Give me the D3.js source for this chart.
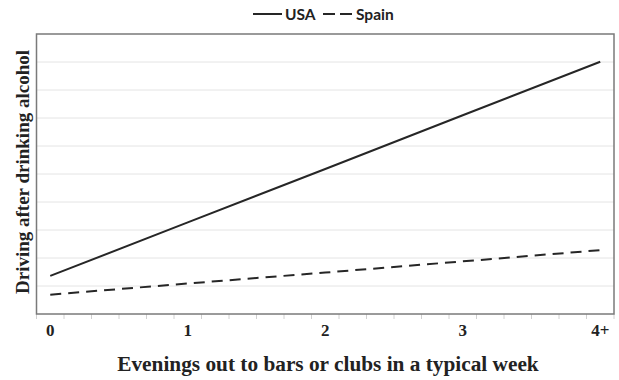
<!DOCTYPE html>
<html>
<head>
<meta charset="utf-8">
<script src="https://cdn.jsdelivr.net/npm/d3@7"></script>
<style>
  html, body { margin: 0; padding: 0; background: #fff; }
  svg { display: block; }
</style>
</head>
<body>
<svg id="chart" width="619" height="380"></svg>
<script>
// ---- Data ----
const categories = ["0", "1", "2", "3", "4+"];
const usaValues = [1.36, 3.27, 5.18, 7.10, 9.01];
const spainValues = [0.69, 1.09, 1.48, 1.88, 2.28];
const seriesNames = ["USA", "Spain"];
const yGridValues = [1, 2, 3, 4, 5, 6, 7, 8, 9];
const xMinorTicks = [-0.1, 0.1, 0.3, 0.5, 0.7, 0.9, 1.1, 1.3, 1.5, 1.7, 1.9, 2.1, 2.3, 2.5, 2.7, 2.9, 3.1, 3.3, 3.5, 3.7, 3.9, 4.1];

(function () {
const svg = d3.select("#chart");
const pL = 36.5, pR = 614, pT = 34, pB = 314;

const x = d3.scaleLinear().domain([-0.1, 4.1]).range([pL, pR]);
const y = d3.scaleLinear().domain([0, 10]).range([pB, pT]);

// Gridlines
svg.append("g").selectAll("line").data(yGridValues).join("line")
  .attr("x1", pL).attr("x2", pR)
  .attr("y1", d => y(d)).attr("y2", d => y(d))
  .attr("stroke", "#e4e4e4").attr("stroke-width", 1);

// Minor ticks below x axis
svg.append("g").selectAll("line").data(xMinorTicks).join("line")
  .attr("x1", d => x(d)).attr("x2", d => x(d))
  .attr("y1", pB).attr("y2", pB + 5)
  .attr("stroke", "#d0d0d0").attr("stroke-width", 1);

// Plot border
svg.append("rect")
  .attr("x", pL).attr("y", pT)
  .attr("width", pR - pL).attr("height", pB - pT)
  .attr("fill", "none").attr("stroke", "#7a7a7a").attr("stroke-width", 1.5);

// Lines
const line = d3.line().x((d, i) => x(i)).y(d => y(d));
svg.append("path").datum(usaValues)
  .attr("d", line).attr("fill", "none")
  .attr("stroke", "#262626").attr("stroke-width", 2);
svg.append("path").datum(spainValues)
  .attr("d", line).attr("fill", "none")
  .attr("stroke", "#262626").attr("stroke-width", 2)
  .attr("stroke-dasharray", "11,7");

// X tick labels
svg.append("g").selectAll("text").data(categories).join("text")
  .attr("x", (d, i) => x(i)).attr("y", 336)
  .attr("text-anchor", "middle")
  .attr("font-family", "'Liberation Serif', 'Times New Roman', serif")
  .attr("font-weight", "bold").attr("font-size", 17)
  .attr("fill", "#222")
  .text(d => d);

// X axis title
svg.append("text")
  .attr("x", 328).attr("y", 371)
  .attr("text-anchor", "middle")
  .attr("font-family", "'Liberation Serif', 'Times New Roman', serif")
  .attr("font-weight", "bold").attr("font-size", 21.3)
  .attr("fill", "#222")
  .text("Evenings out to bars or clubs in a typical week");

// Y axis title
svg.append("text")
  .attr("transform", `translate(29, 172) rotate(-90)`)
  .attr("text-anchor", "middle")
  .attr("font-family", "'Liberation Serif', 'Times New Roman', serif")
  .attr("font-weight", "bold").attr("font-size", 19)
  .attr("fill", "#222")
  .text("Driving after drinking alcohol");

// Legend
const lg = svg.append("g");
const legendFont = "Lato, 'Open Sans', sans-serif";
lg.append("line").attr("x1", 253).attr("x2", 282).attr("y1", 14).attr("y2", 14)
  .attr("stroke", "#262626").attr("stroke-width", 2);
lg.append("text").attr("x", 285).attr("y", 20)
  .attr("font-family", legendFont).attr("font-weight", "bold").attr("font-size", 15.5)
  .attr("fill", "#222").text(seriesNames[0]);
lg.append("line").attr("x1", 323).attr("x2", 353).attr("y1", 14).attr("y2", 14)
  .attr("stroke", "#262626").attr("stroke-width", 2)
  .attr("stroke-dasharray", "12,5");
lg.append("text").attr("x", 356).attr("y", 20)
  .attr("font-family", legendFont).attr("font-weight", "bold").attr("font-size", 15.5)
  .attr("fill", "#222").text(seriesNames[1]);
})();
</script>
</body>
</html>
